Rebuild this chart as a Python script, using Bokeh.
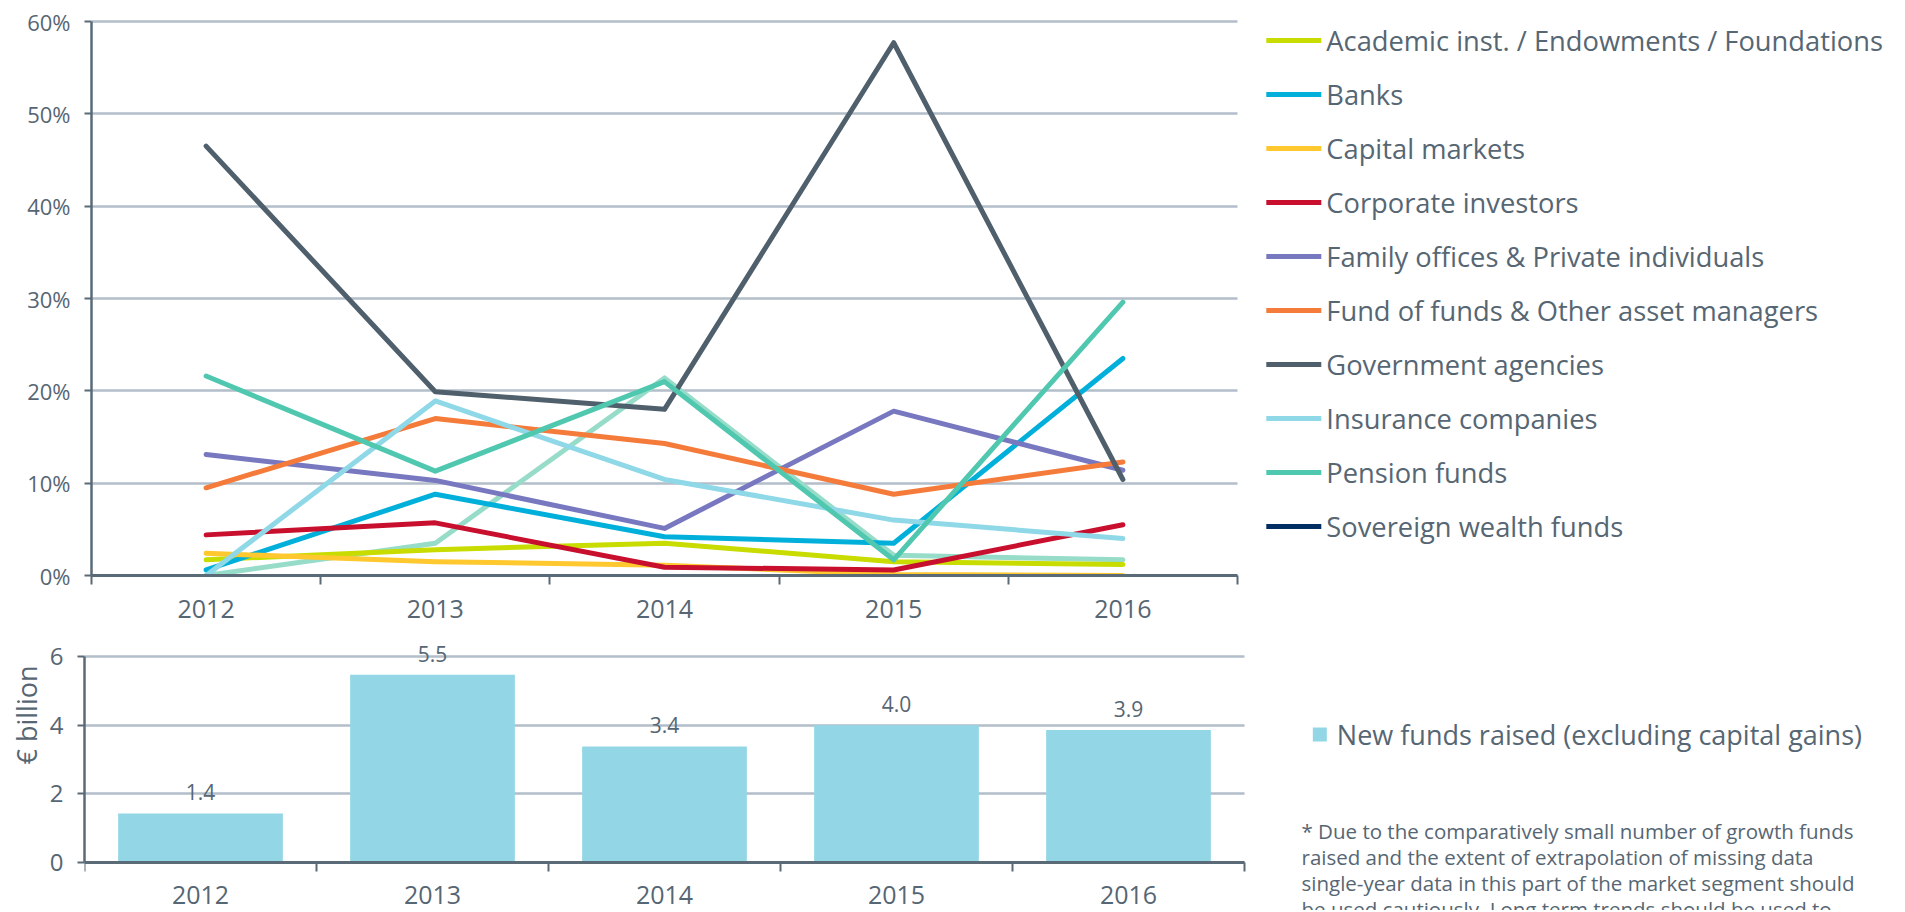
from bokeh.plotting import figure
from bokeh.models import (Range1d, FixedTicker, PrintfTickFormatter, Legend, LegendItem,
                          Label, LabelSet, ColumnDataSource, Title)
from bokeh.core.properties import value
from bokeh.layouts import column, row
from bokeh.embed import file_html
from bokeh.resources import INLINE

nan = float("nan")

# ---------------- data ----------------
years = ["2012", "2013", "2014", "2015", "2016"]

academic = [1.7, 2.8, 3.5, 1.5, 1.2]
banks = [0.6, 8.8, 4.2, 3.5, 23.5]
capital_markets = [2.4, 1.5, 1.1, 0.1, 0.0]
corporate = [4.4, 5.7, 0.9, 0.6, 5.5]
family_offices = [13.1, 10.3, 5.1, 17.8, 11.4]
fund_of_funds = [9.5, 17.0, 14.3, 8.8, 12.3]
government = [46.5, 19.9, 18.0, 57.7, 10.4]
insurance = [0.0, 18.9, 10.4, 6.0, 4.0]
pension = [21.6, 11.3, 21.0, 1.7, 29.6]
sovereign = [nan, nan, nan, nan, nan]
other_unlabelled = [0.0, 3.5, 21.4, 2.2, 1.7]

series_names = ["Academic inst. / Endowments / Foundations", "Banks", "Capital markets",
                "Corporate investors", "Family offices & Private individuals",
                "Fund of funds & Other asset managers", "Government agencies",
                "Insurance companies", "Pension funds", "Sovereign wealth funds"]
series_values = [academic, banks, capital_markets, corporate, family_offices,
                 fund_of_funds, government, insurance, pension, sovereign]
series_colors = ["#C8DC00", "#00B0DA", "#FFC82E", "#C8102E", "#7878C0",
                 "#F47B3A", "#4F5F6B", "#8FD8E8", "#50C8B0", "#002D62"]
other_color = "#96DCC8"

pct_ticks = [0, 10, 20, 30, 40, 50, 60]
pct_max = 60

new_funds = [1.43, 5.47, 3.38, 4.0, 3.86]
new_funds_label = "New funds raised (excluding capital gains)"
bar_color = "#93D7E6"
bn_ticks = [0, 2, 4, 6]
bn_max = 6
bn_axis_label = "€ billion"

footnote = ("* Due to the comparatively small number of growth funds\n"
            "raised and the extent of extrapolation of missing data\n"
            "single-year data in this part of the market segment should\n"
            "be used cautiously. Long term trends should be used to")

# ---------------- style ----------------
FONT = "Open Sans"
TEXT = "#566673"
AXIS = "#5A6A77"
GRID = "#B2BEC9"
LW = 5

n = len(years)
xc = [i + 0.5 for i in range(n)]
bounds = [i for i in range(n + 1)]
label_map = {i + 0.5: y for i, y in enumerate(years)}


def style_x_axis(ax, standoff):
    ax.ticker = FixedTicker(ticks=xc, minor_ticks=bounds)
    ax.major_label_overrides = label_map
    ax.bounds = (0, n)
    ax.major_tick_out = 0
    ax.major_tick_in = 0
    ax.minor_tick_out = 9
    ax.minor_tick_in = 0
    ax.minor_tick_line_color = AXIS
    ax.minor_tick_line_width = 2
    ax.axis_line_color = AXIS
    ax.axis_line_width = 3
    ax.major_label_text_font = FONT
    ax.major_label_text_font_size = "25px"
    ax.major_label_text_color = TEXT
    ax.major_label_standoff = standoff


def style_y_axis(ax, ticks, size, top_value):
    ax.ticker = FixedTicker(ticks=ticks)
    ax.bounds = (0, top_value)
    ax.major_tick_out = 7
    ax.major_tick_in = 0
    ax.major_tick_line_color = AXIS
    ax.major_tick_line_width = 2
    ax.minor_tick_out = 0
    ax.minor_tick_in = 0
    ax.axis_line_color = AXIS
    ax.axis_line_width = 2.5
    ax.major_label_text_font = FONT
    ax.major_label_text_font_size = size
    ax.major_label_text_color = TEXT
    ax.major_label_standoff = 14


def style_grid(g, ticks):
    g.ticker = FixedTicker(ticks=ticks)
    g.grid_line_color = GRID
    g.grid_line_width = 2.5
    if "cross_bounds" in g.properties():
        g.cross_bounds = (0, n)


# ---------------- top chart ----------------
# plot area of the chart: 1146 px wide, 554 px high; the frame extends to the right for the legend
T_CHART_W, T_CHART_H = 1146, 554
T_FRAME_W, T_FRAME_H = 1813, 575
top = figure(output_backend="svg", toolbar_location=None,
             frame_width=T_FRAME_W, frame_height=T_FRAME_H,
             min_border_left=91, min_border_right=0, min_border_top=0, min_border_bottom=55,
             x_range=Range1d(0, n * T_FRAME_W / T_CHART_W),
             y_range=Range1d(0, pct_max * T_FRAME_H / T_CHART_H),
             outline_line_color=None, background_fill_color="white", border_fill_color="white")
top.xgrid.visible = False
style_grid(top.ygrid[0], pct_ticks)
style_x_axis(top.xaxis[0], 15)
style_y_axis(top.yaxis[0], pct_ticks, "22px", pct_max)
top.yaxis[0].formatter = PrintfTickFormatter(format="%d%%")

top.line(xc, other_unlabelled, line_color=other_color, line_width=LW,
         line_cap="round", line_join="round")
items = []
for name, vals, col in zip(series_names, series_values, series_colors):
    r = top.line(xc, vals, line_color=col, line_width=LW, line_cap="round", line_join="round")
    items.append(LegendItem(label=name, renderers=[r]))

legend = Legend(items=items, location="top_right", orientation="vertical",
                glyph_width=55, glyph_height=38, label_height=38, spacing=16,
                padding=0, margin=21, label_standoff=5,
                label_text_font=FONT, label_text_font_size="27.3px", label_text_color=TEXT,
                border_line_color=None, background_fill_alpha=0)
top.add_layout(legend)

# ---------------- bottom chart ----------------
B_CHART_W, B_CHART_H = 1160, 206
B_FRAME_W = 1820
B_ABOVE, B_BELOW = 24, 48   # frame space above the "6" line and below the zero line
unit = B_CHART_H / bn_max
bot = figure(output_backend="svg", toolbar_location=None,
             frame_width=B_FRAME_W, frame_height=B_CHART_H + B_ABOVE + B_BELOW,
             min_border_left=84, min_border_right=0, min_border_top=2, min_border_bottom=0,
             x_range=Range1d(0, n * B_FRAME_W / B_CHART_W),
             y_range=Range1d(-B_BELOW / unit, bn_max + B_ABOVE / unit),
             outline_line_color=None, background_fill_color="white", border_fill_color="white")
bot.xgrid.visible = False
style_grid(bot.ygrid[0], bn_ticks)
style_x_axis(bot.xaxis[0], 14)
bot.xaxis[0].fixed_location = 0
style_y_axis(bot.yaxis[0], bn_ticks, "24px", bn_max)

src = ColumnDataSource(dict(x=xc, top=new_funds, lab=["%.1f" % v for v in new_funds]))
bars = bot.vbar(x="x", top="top", width=0.71, bottom=0, source=src,
                fill_color=bar_color, line_color=None)
bot.add_layout(LabelSet(x="x", y="top", text="lab", source=src, y_offset=21,
                        text_align="center", text_baseline="middle",
                        text_font=value(FONT), text_font_size=value("21px"),
                        text_color=value(TEXT)))

# square legend swatch (zero-size markers on the bar tops, only visible in the legend)
swatch = bot.scatter(x="x", y="top", source=src, marker="square", size=0,
                     fill_color=bar_color, line_color=None)
leg2 = Legend(items=[LegendItem(label=new_funds_label, renderers=[swatch])],
              location="top_right", orientation="vertical",
              glyph_width=35, glyph_height=120, label_height=120, spacing=0,
              padding=0, margin=42, label_standoff=0,
              label_text_font=FONT, label_text_font_size="27px", label_text_color=TEXT,
              border_line_color=None, background_fill_alpha=0)
bot.add_layout(leg2)

bot.add_layout(Title(text=bn_axis_label, align="left", offset=146, standoff=4,
                     text_font=FONT, text_font_size="27px", text_font_style="normal",
                     text_color=TEXT), "left")

bot.add_layout(Label(x=1301 - 84, y=B_BELOW + 862 - 816, x_units="screen", y_units="screen",
                     text=footnote, text_align="left", text_baseline="top",
                     text_line_height=0.93, text_font=FONT, text_font_size="20.5px",
                     text_color=TEXT))

page = column(row(top), row(bot), spacing=0)
open("out.html", "w").write(file_html(page, INLINE))
